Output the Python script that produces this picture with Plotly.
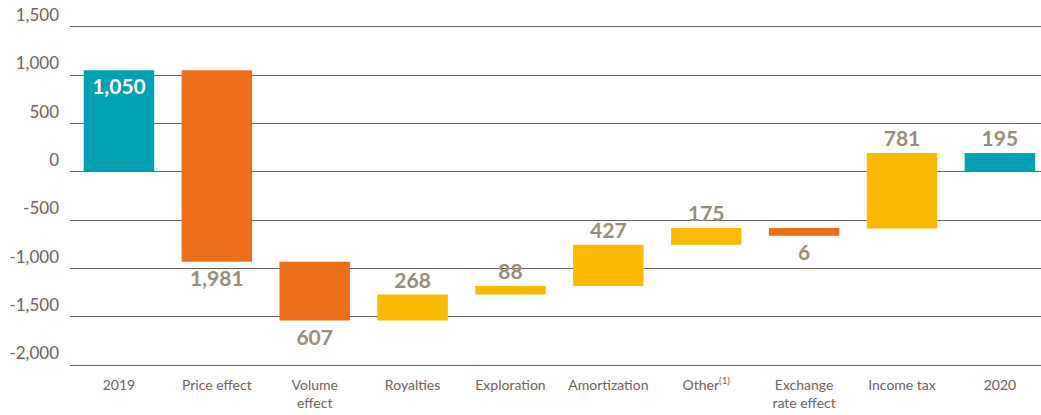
import numpy as np
import plotly.graph_objects as go

categories = ["2019", "Price effect", "Volume<br>effect", "Royalties", "Exploration",
              "Amortization", "Other<sup>(1)</sup>", "Exchange<br>rate effect", "Income tax", "2020"]
values = [1050, -1981, -607, 268, 88, 427, 175, -6, 781, 195]
measures = ["total", "rel", "rel", "rel", "rel", "rel", "rel", "rel", "rel", "total"]
labels = ["1,050", "1,981", "607", "268", "88", "427", "175", "6", "781", "195"]
y_ticks = [1500, 1000, 500, 0, -500, -1000, -1500, -2000]
y_tick_labels = ["1,500", "1,000", "500", "0", "-500", "-1,000", "-1,500", "-2,000"]

TEAL = "#00A1B5"
ORANGE = "#EC6D1A"
YELLOW = "#FBB900"
LABEL = "#998C78"
AXIS = "#6E625A"
MIN_VISIBLE = 80  # minimum drawn thickness for tiny changes

bases, heights, colors, tpos = [], [], [], []
running = 0
for v, m in zip(values, measures):
    if m == "total":
        bases.append(0)
        heights.append(v)
        running = v
        colors.append(TEAL)
    else:
        bases.append(running)
        h = np.sign(v) * max(abs(v), MIN_VISIBLE)
        heights.append(h)
        running += v
        colors.append(YELLOW if v > 0 else ORANGE)
    tpos.append("outside")
tpos[0] = "inside"

x = list(range(len(categories)))
fig = go.Figure(go.Bar(
    x=x, y=heights, base=bases,
    marker=dict(color=colors, line=dict(width=0)),
    width=0.72,
    text=labels, textposition=tpos, insidetextanchor="end",
    insidetextfont=dict(family="Lato", size=21, color="white", weight="bold"),
    outsidetextfont=dict(family="Lato", size=21, color=LABEL, weight="bold"),
    cliponaxis=False,
    hoverinfo="skip",
))

fig.update_layout(
    width=1041, height=415,
    margin=dict(l=70, r=0, t=22, b=45, autoexpand=False),
    paper_bgcolor="white", plot_bgcolor="white",
    showlegend=False,
    bargap=0.28,
    xaxis=dict(
        tickmode="array", tickvals=x, ticktext=categories,
        range=[-0.5, 9.42], showgrid=False, zeroline=False,
        showline=False, ticks="", automargin=False,
        tickfont=dict(family="Lato", size=14, color=AXIS),
        ticklabelstandoff=5,
    ),
    yaxis=dict(
        tickmode="array", tickvals=y_ticks, ticktext=y_tick_labels,
        range=[-2050, 1550], showgrid=True, gridcolor=AXIS, gridwidth=1,
        zeroline=False, showline=False, ticks="", automargin=False,
        ticklabelposition="outside top",
        tickfont=dict(family="Lato", size=17, color=AXIS),
        ticklabelstandoff=10,
    ),
)

fig.write_html("out.html", config={"displayModeBar": False},
               post_script="document.body.style.margin='0';document.body.style.overflow='hidden';")
